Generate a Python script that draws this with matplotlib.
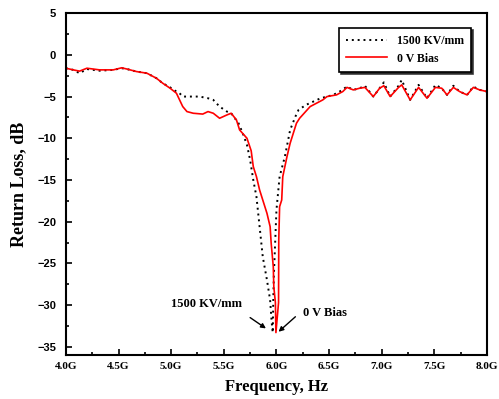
import numpy as np
import matplotlib
matplotlib.use('agg')
from matplotlib import pyplot as plt
from matplotlib.ticker import MultipleLocator, FuncFormatter

# 0 V Bias (red)
f_0v = [4.00, 4.07, 4.13, 4.20, 4.32, 4.45, 4.53, 4.58, 4.67, 4.77, 4.86, 4.92,
        4.99, 5.05, 5.08, 5.11, 5.15, 5.21, 5.30, 5.35, 5.40, 5.46, 5.53, 5.57,
        5.62, 5.65, 5.72, 5.76, 5.78, 5.81, 5.84, 5.87, 5.91, 5.94, 5.95, 5.97,
        5.975, 5.99, 5.995, 6.02, 6.022, 6.03, 6.05, 6.06, 6.10, 6.13, 6.16, 6.19,
        6.22, 6.32, 6.38, 6.44, 6.48, 6.57, 6.63, 6.67, 6.73, 6.79, 6.84, 6.92,
        6.98, 7.02, 7.08, 7.16, 7.19, 7.27, 7.35, 7.43, 7.51, 7.57, 7.62, 7.68,
        7.74, 7.81, 7.87, 7.93, 8.00]
rl_0v = [-1.6, -1.8, -1.95, -1.6, -1.8, -1.8, -1.55, -1.7, -2.0, -2.2, -2.8, -3.4,
         -4.0, -4.6, -5.4, -6.2, -6.8, -7.0, -7.1, -6.8, -7.0, -7.6, -7.2, -7.0,
         -7.8, -9.0, -10.0, -11.5, -13.4, -14.6, -16.2, -17.4, -19.0, -20.6, -22.6, -25.4,
         -27.8, -29.7, -33.3, -29.7, -22.2, -18.2, -17.4, -14.6, -12.2, -10.6, -9.4, -8.2,
         -7.6, -6.2, -5.8, -5.4, -5.0, -4.8, -4.4, -3.9, -4.2, -4.0, -3.9, -5.0,
         -4.0, -3.7, -5.0, -3.9, -3.6, -5.4, -3.9, -5.2, -3.9, -4.0, -4.8, -3.9,
         -4.4, -4.8, -3.9, -4.2, -4.4]

# 1500 KV/mm (black dotted)
f_hv = [4.00, 4.07, 4.13, 4.20, 4.32, 4.45, 4.53, 4.58, 4.67, 4.77, 4.86, 4.92,
        4.99, 5.05, 5.08, 5.11, 5.18, 5.27, 5.35, 5.40, 5.46, 5.53, 5.57, 5.64,
        5.68, 5.72, 5.75, 5.78, 5.81, 5.84, 5.87, 5.91, 5.94, 5.955, 5.965, 5.97,
        5.975, 6.00, 6.03, 6.08, 6.13, 6.18, 6.21, 6.28, 6.35, 6.42, 6.48, 6.54,
        6.60, 6.67, 6.73, 6.79, 6.84, 6.92, 6.98, 7.02, 7.08, 7.16, 7.19, 7.27,
        7.35, 7.43, 7.51, 7.57, 7.62, 7.68, 7.74, 7.81, 7.87, 7.93, 8.00]
rl_hv = [-1.6, -1.8, -2.2, -1.7, -1.9, -1.8, -1.6, -1.7, -2.0, -2.2, -2.8, -3.4,
         -3.9, -4.4, -4.6, -5.0, -5.0, -5.0, -5.2, -5.4, -6.2, -6.8, -7.0, -8.2,
         -9.4, -10.8, -12.6, -15.0, -17.0, -20.6, -24.2, -27.0, -29.4, -32.1, -33.3, -29.4,
         -26.6, -18.6, -14.6, -12.2, -9.0, -7.4, -6.6, -6.0, -5.6, -5.2, -5.0, -4.8,
         -4.4, -3.8, -4.2, -4.0, -3.7, -5.0, -4.0, -3.3, -5.0, -3.7, -3.0, -5.4,
         -3.6, -5.2, -3.6, -4.0, -4.8, -3.7, -4.4, -4.8, -3.8, -4.2, -4.4]

xticks = [4.0, 4.5, 5.0, 5.5, 6.0, 6.5, 7.0, 7.5, 8.0]
yticks = [5, 0, -5, -10, -15, -20, -25, -30, -35]

serif = 'Liberation Serif'
sans = 'Liberation Sans'

fig = plt.figure(figsize=(4.99, 3.99), dpi=100)
ax = fig.add_axes([0.132, 0.110, 0.844, 0.857])

ax.plot(f_hv, rl_hv, color='black', linestyle=(0, (1, 2)), lw=1.4, label='1500 KV/mm')
ax.plot(f_0v, rl_0v, color='red', lw=1.2, label='0 V Bias')

ax.set_xlim(4.0, 8.0)
ax.set_ylim(-36, 5)
ax.set_xticks(xticks)
ax.set_yticks(yticks)
ax.xaxis.set_major_formatter(FuncFormatter(lambda v, p: '%.1fG' % v))
ax.xaxis.set_minor_locator(MultipleLocator(0.25))
ax.yaxis.set_minor_locator(MultipleLocator(2.5))
ax.tick_params(which='both', direction='in', width=1.2)
ax.tick_params(which='major', length=4)
ax.tick_params(which='minor', length=2.5)
ax.tick_params(axis='x', pad=5)
ax.tick_params(axis='y', pad=7)
for lab in ax.get_xticklabels():
    lab.set_fontfamily(serif)
    lab.set_fontweight('bold')
    lab.set_fontsize(8)
for lab in ax.get_yticklabels():
    lab.set_fontfamily(sans)
    lab.set_fontweight('bold')
    lab.set_fontsize(8)
for s in ax.spines.values():
    s.set_linewidth(1.5)

ax.set_xlabel('Frequency, Hz', fontfamily=serif, fontweight='bold', fontsize=12, labelpad=6)
ax.set_ylabel('Return Loss, dB', fontfamily=serif, fontweight='bold', fontsize=13, labelpad=7)

ax.text(5.34, -29.9, '1500 KV/mm', ha='center', va='center', fontfamily=serif,
        fontweight='bold', fontsize=9)
ax.text(6.46, -31.0, '0 V Bias', ha='center', va='center', fontfamily=serif,
        fontweight='bold', fontsize=9)
ax.annotate('', xy=(5.90, -32.8), xytext=(5.75, -31.5),
            arrowprops=dict(arrowstyle='-|>', color='black', lw=1, mutation_scale=7,
                            shrinkA=0, shrinkB=0))
ax.annotate('', xy=(6.02, -33.2), xytext=(6.18, -31.4),
            arrowprops=dict(arrowstyle='-|>', color='black', lw=1, mutation_scale=7,
                            shrinkA=0, shrinkB=0))

leg = ax.legend(loc='upper right', bbox_to_anchor=(0.975, 0.975), frameon=True, fancybox=False,
                shadow={'color': '0.15', 'alpha': 0.9},
                prop={'family': serif, 'weight': 'bold', 'size': 8.5},
                handlelength=3.5, borderpad=0.6, labelspacing=0.5)
leg.get_frame().set_edgecolor('black')
leg.get_frame().set_linewidth(1.2)

fig.savefig('out.png', dpi=100)
